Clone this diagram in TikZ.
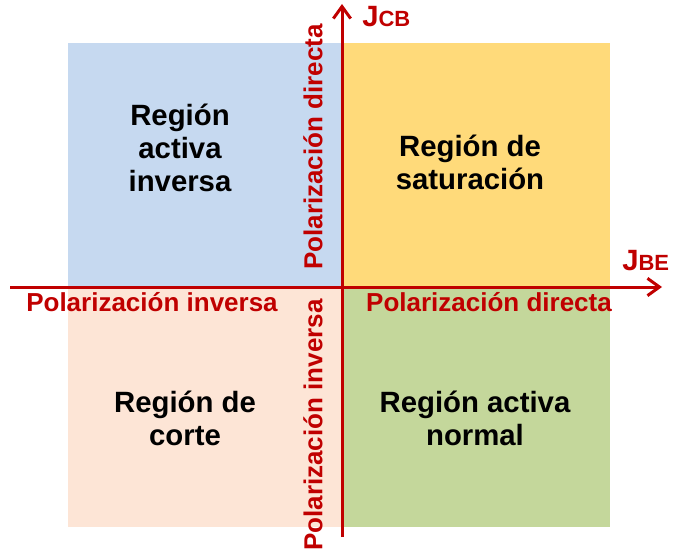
\documentclass[tikz,border=0pt]{standalone}
\usepackage{fontspec}
\setmainfont{Liberation Sans}
\usetikzlibrary{arrows.meta}
\definecolor{axisred}{RGB}{192,0,0}
\definecolor{qblue}{RGB}{198,217,240}
\definecolor{qyellow}{RGB}{255,218,122}
\definecolor{qpeach}{RGB}{253,229,214}
\definecolor{qgreen}{RGB}{196,215,155}
\begin{document}
\begin{tikzpicture}[x=0.75pt,y=0.75pt,yscale=-1,xscale=1,
  regiontext/.style={align=center,inner sep=0pt,font=\fontsize{22}{24.75}\selectfont\bfseries},
  pollabel/.style={text=axisred,inner sep=0pt,font=\fontsize{19.5}{22}\selectfont\bfseries},
  junction/.style={text=axisred,inner sep=0pt,font=\bfseries},
  axisline/.style={draw=axisred,line width=2.25pt,-{Straight Barb[length=9pt,width=13pt,line width=2.25pt]}}]
\useasboundingbox (0,0) rectangle (675,556);

% Quadrants
\fill [qblue] (68,43) rectangle (342,287);
\fill [qyellow] (342,43) rectangle (610,287);
\fill [qpeach] (68,287) rectangle (342,527);
\fill [qgreen] (342,287) rectangle (610,527);

% Axes
\coordinate (hstart) at (10,287);
\coordinate (hend) at (662,287);
\coordinate (vstart) at (342,537);
\coordinate (vend) at (342,4);
\draw [axisline] (hstart) -- (hend);
\draw [axisline] (vstart) -- (vend);

% Axis names
\node (jbe) [junction,anchor=base west] at (622,271) {\fontsize{22}{22}\selectfont J\fontsize{16.5}{16.5}\selectfont BE};
\node (jcb) [junction,anchor=base west] at (362,27) {\fontsize{22}{22}\selectfont J\fontsize{16.5}{16.5}\selectfont CB};

% Polarization labels
\node (beinv) [pollabel,anchor=base] at (152,311) {Polarización inversa};
\node (bedir) [pollabel,anchor=base] at (489,311) {Polarización directa};
\node (cbdir) [pollabel,rotate=90] at (313,147) {Polarización directa};
\node (cbinv) [pollabel,rotate=90] at (313,425) {Polarización inversa};

% Regions
\node (inverse) [regiontext] at (180,148) {Región\\activa\\inversa};
\node (saturation) [regiontext] at (470,162) {Región de\\saturación};
\node (cutoff) [regiontext] at (185,418) {Región de\\corte};
\node (normal) [regiontext] at (475,418) {Región activa\\normal};
\end{tikzpicture}
\end{document}
